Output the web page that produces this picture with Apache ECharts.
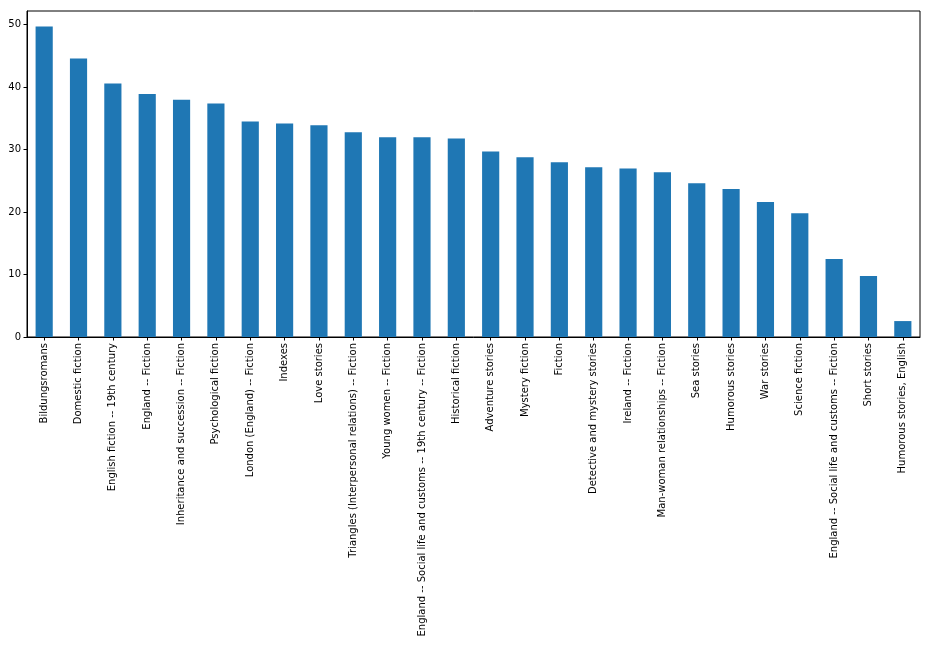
<!DOCTYPE html>
<html>
<head>
<meta charset="utf-8">
<script src="https://cdn.jsdelivr.net/npm/echarts@6/dist/echarts.min.js"></script>
<style>
html,body{margin:0;padding:0;background:#fff;}
#chart{width:930px;height:645px;}
</style>
</head>
<body>
<div id="chart"></div>
<script>
const categories = [
  "Bildungsromans",
  "Domestic fiction",
  "English fiction -- 19th century",
  "England -- Fiction",
  "Inheritance and succession -- Fiction",
  "Psychological fiction",
  "London (England) -- Fiction",
  "Indexes",
  "Love stories",
  "Triangles (Interpersonal relations) -- Fiction",
  "Young women -- Fiction",
  "England -- Social life and customs -- 19th century -- Fiction",
  "Historical fiction",
  "Adventure stories",
  "Mystery fiction",
  "Fiction",
  "Detective and mystery stories",
  "Ireland -- Fiction",
  "Man-woman relationships -- Fiction",
  "Sea stories",
  "Humorous stories",
  "War stories",
  "Science fiction",
  "England -- Social life and customs -- Fiction",
  "Short stories",
  "Humorous stories, English"
];
const values = [49.7, 44.6, 40.6, 38.9, 38.0, 37.4, 34.5, 34.2, 33.9, 32.8, 32.0, 32.0, 31.8,
  29.7, 28.8, 28.0, 27.2, 27.0, 26.4, 24.6, 23.7, 21.6, 19.8, 12.5, 9.75, 2.55];
const yTicks = [0, 10, 20, 30, 40, 50];

const chart = echarts.init(document.getElementById('chart'), null, {renderer: 'canvas'});
chart.setOption({
  animation: false,
  backgroundColor: '#fff',
  grid: {left: 27, right: 10, top: 11, bottom: 308, show: true, borderColor: '#000', borderWidth: 1, backgroundColor: 'transparent'},
  xAxis: {
    type: 'category',
    data: categories,
    boundaryGap: true,
    axisLine: {show: true, lineStyle: {color: '#000', width: 1}},
    axisTick: {show: true, alignWithLabel: true, length: 3.5, lineStyle: {color: '#000'}},
    axisLabel: {rotate: 90, interval: 0, color: '#000', fontFamily: 'DejaVu Sans', fontSize: 10, margin: 6}
  },
  yAxis: {
    type: 'value',
    min: 0,
    max: 52.2,
    interval: 10,
    splitLine: {show: false},
    axisLine: {show: true, lineStyle: {color: '#000', width: 1}},
    axisTick: {show: true, length: 3.5, lineStyle: {color: '#000'}, customValues: yTicks},
    axisLabel: {color: '#000', fontFamily: 'DejaVu Sans', fontSize: 10, margin: 6, customValues: yTicks}
  },
  series: [{
    type: 'bar',
    data: values,
    barWidth: '50%',
    itemStyle: {color: '#1f77b4'}
  }]
});
</script>
</body>
</html>
